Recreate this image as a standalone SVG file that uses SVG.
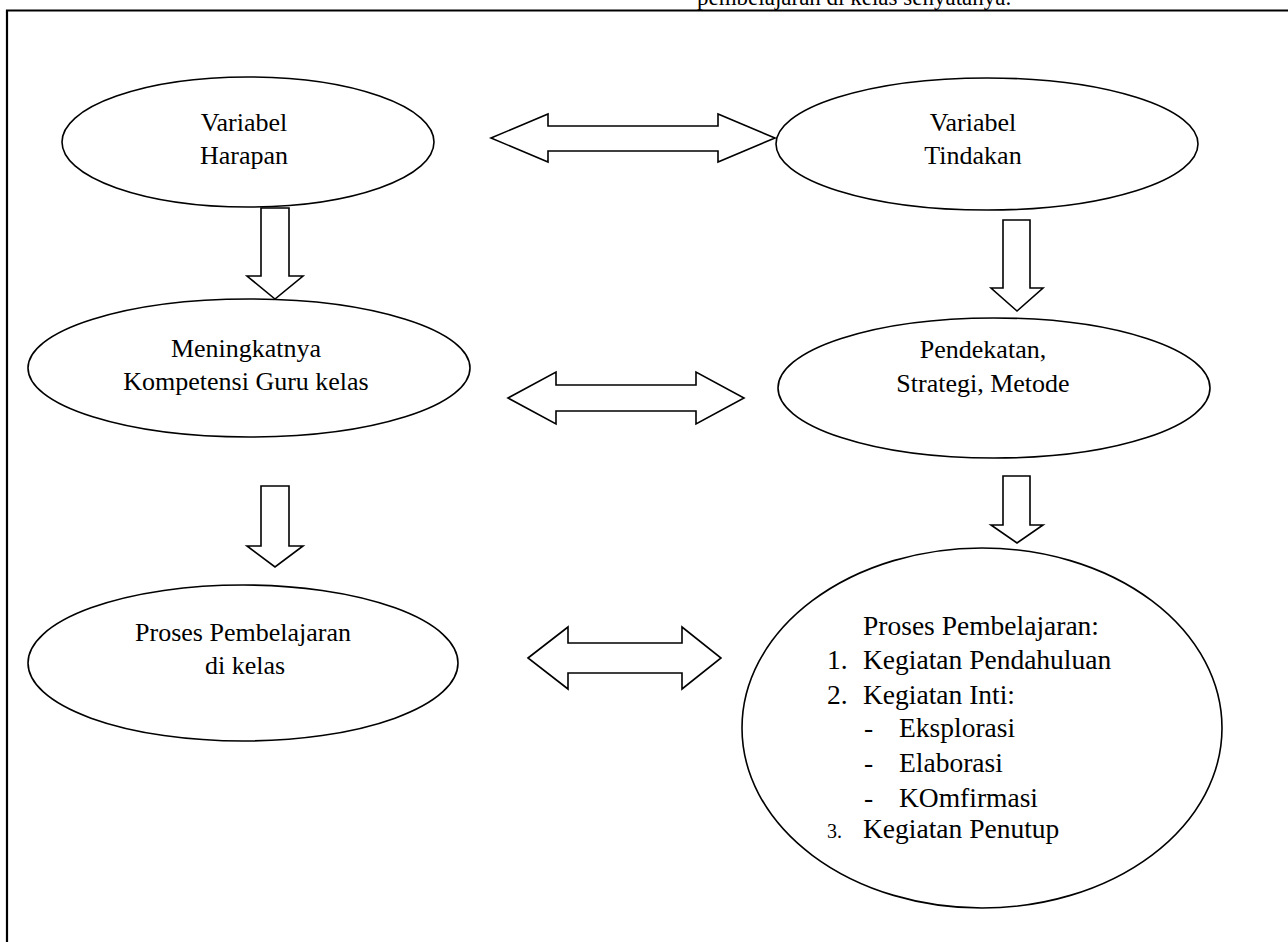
<svg xmlns="http://www.w3.org/2000/svg" width="1288" height="942" viewBox="0 0 1288 942">
<style>
.n{fill:#fff;stroke:#000;stroke-width:1.6}
.a{fill:#fff;stroke:#000;stroke-width:1.6;stroke-linejoin:miter}
.t{font-family:"Liberation Serif","Times New Roman",serif;font-size:26px;fill:#000}
.m{text-anchor:middle}
</style>
<rect width="1288" height="942" fill="#fff"/>
<text class="t" x="697" y="5" style="font-size:23px">pembelajaran di kelas senyatanya.</text>
<path d="M7,942 V10.5 H1288" fill="none" stroke="#000" stroke-width="2.2"/>
<g id="n1"><ellipse class="n" cx="248" cy="142" rx="186" ry="65"/>
<text class="t m" x="244" y="131">Variabel</text><text class="t m" x="244" y="164">Harapan</text></g>
<g id="n2"><ellipse class="n" cx="987" cy="144" rx="211" ry="66"/>
<text class="t m" x="973" y="131">Variabel</text><text class="t m" x="973" y="164">Tindakan</text></g>
<g id="n3"><ellipse class="n" cx="249" cy="368" rx="221" ry="69"/>
<text class="t m" x="246" y="357">Meningkatnya</text><text class="t m" x="246" y="390">Kompetensi Guru kelas</text></g>
<g id="n4"><ellipse class="n" cx="994" cy="388" rx="216" ry="70"/>
<text class="t m" x="983" y="358">Pendekatan,</text><text class="t m" x="983" y="392">Strategi, Metode</text></g>
<g id="n5"><ellipse class="n" cx="243" cy="663" rx="215" ry="78"/>
<text class="t m" x="243" y="641">Proses Pembelajaran</text><text class="t m" x="245" y="674">di kelas</text></g>
<g id="n6"><ellipse class="n" cx="982" cy="728" rx="240" ry="180"/>
<g class="t" style="font-size:27.5px">
<text x="863" y="635">Proses Pembelajaran:</text>
<text x="827" y="669">1.</text><text x="863" y="669">Kegiatan Pendahuluan</text>
<text x="827" y="704">2.</text><text x="863" y="704">Kegiatan Inti:</text>
<text x="864" y="737">-</text><text x="899" y="737">Eksplorasi</text>
<text x="864" y="772">-</text><text x="899" y="772">Elaborasi</text>
<text x="864" y="807">-</text><text x="899" y="807">KOmfirmasi</text>
<text x="827" y="838" style="font-size:20px">3.</text><text x="863" y="838">Kegiatan Penutup</text>
</g></g>
<g id="connectors">
<polygon class="a" points="491,138 548,114 548,126 718,126 718,114 775,138 718,162 718,151 548,151 548,162"/>
<polygon class="a" points="508,398 556,372 556,385 696,385 696,372 744,398 696,424 696,411 556,411 556,424"/>
<polygon class="a" points="528,658 568,627 568,643 682,643 682,627 721,658 682,689 682,673 568,673 568,689"/>
<polygon class="a" points="261,208 289,208 289,276 303,276 275,299 247,276 261,276"/>
<polygon class="a" points="261,486 289,486 289,546 303,546 275,567 247,546 261,546"/>
<polygon class="a" points="1003,220 1030,220 1030,288 1043,288 1017,311 991,288 1003,288"/>
<polygon class="a" points="1003,476 1030,476 1030,525 1043,525 1017,543 991,525 1003,525"/>
</g>
</svg>
